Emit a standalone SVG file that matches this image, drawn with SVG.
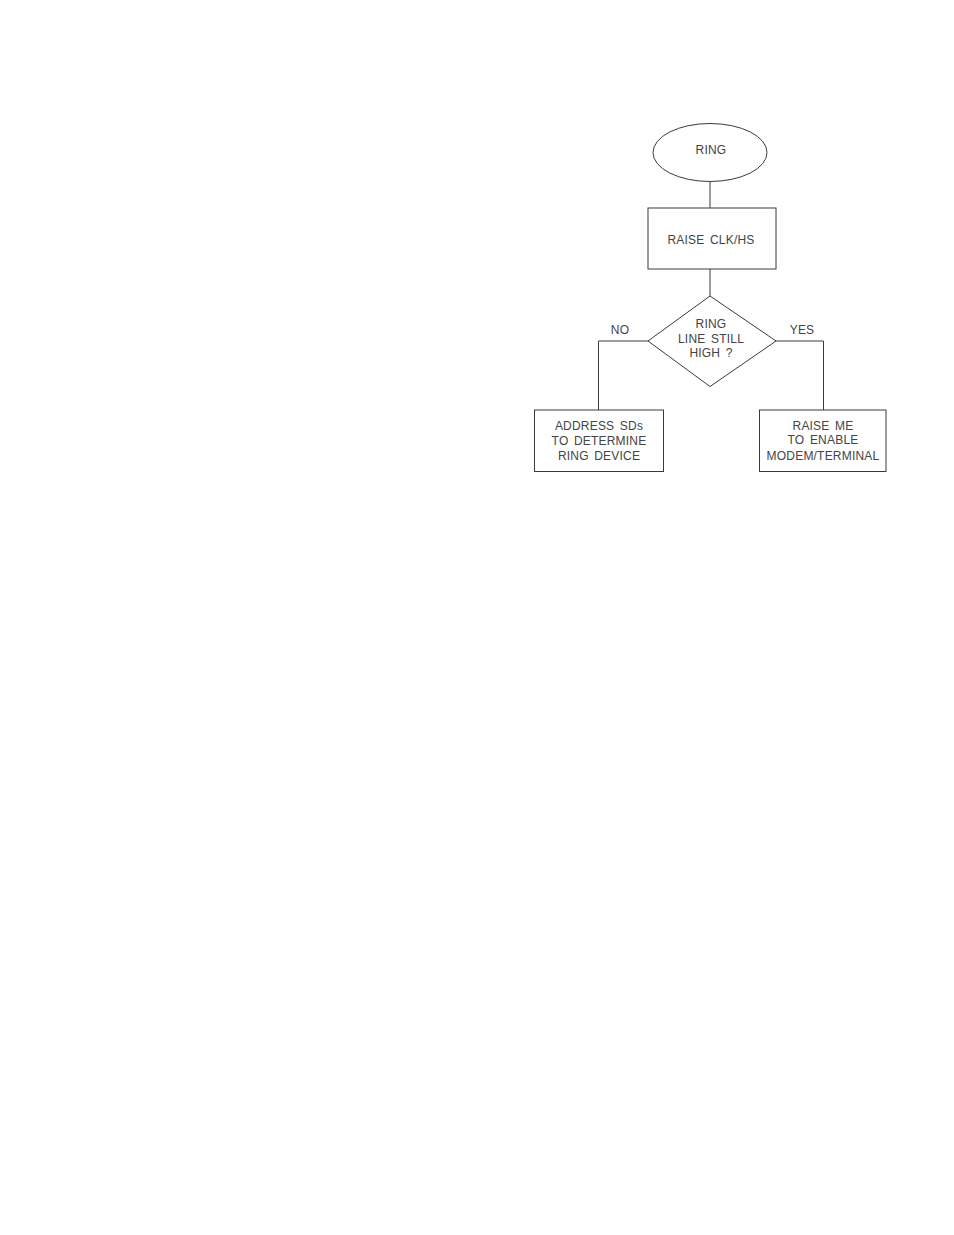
<svg xmlns="http://www.w3.org/2000/svg" width="954" height="1235" viewBox="0 0 954 1235">
<style>
.s{fill:none;stroke:#3a3a3a;stroke-width:1}
.n{fill:#fff;stroke:#3a3a3a;stroke-width:1}
text{font-family:"Liberation Sans",Arial,sans-serif;font-size:12px;fill:#444;text-anchor:middle;letter-spacing:0.2px;word-spacing:2px}
</style>
<rect width="954" height="1235" fill="#fff"/>
<g id="connectors">
<path class="s" d="M710 181.5V208"/>
<path class="s" d="M710 269V296"/>
<path class="s" d="M648 341H598.5V410"/>
<path class="s" d="M772 341H823.5V410"/>
<text x="620" y="334">NO</text>
<text x="802" y="334">YES</text>
</g>
<g id="ring">
<ellipse class="n" cx="710" cy="152.5" rx="57" ry="29"/>
<text x="711" y="154">RING</text>
</g>
<g id="raise-clk">
<rect class="n" x="648" y="208" width="128" height="61"/>
<text x="711" y="243.5">RAISE CLK/HS</text>
</g>
<g id="decision">
<polygon class="n" points="710,296 776,341 710,386.5 648,341"/>
<text x="711" y="327.5">RING</text>
<text x="711" y="342.5">LINE STILL</text>
<text x="711" y="357">HIGH ?</text>
</g>
<g id="address">
<rect class="n" x="534.5" y="410" width="129" height="61.5"/>
<text x="599" y="429.5">ADDRESS SDs</text>
<text x="599" y="445">TO DETERMINE</text>
<text x="599" y="459.5">RING DEVICE</text>
</g>
<g id="raise-me">
<rect class="n" x="759.5" y="410" width="126.5" height="61.5"/>
<text x="823" y="429.5">RAISE ME</text>
<text x="823" y="444">TO ENABLE</text>
<text x="823" y="459.5">MODEM/TERMINAL</text>
</g>
</svg>
